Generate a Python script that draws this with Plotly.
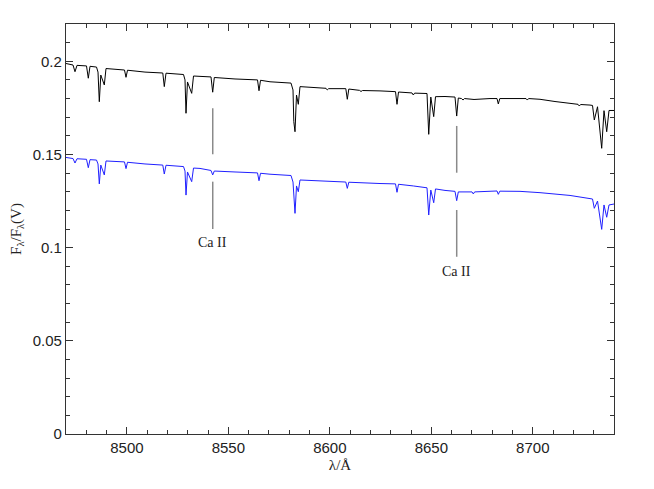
import plotly.graph_objects as go

# ---- data ----
wave_black = [8470.00, 8473.45, 8474.43, 8475.42, 8480.10, 8480.99, 8481.83, 8485.03, 8485.77, 8486.41,
              8487.15, 8488.87, 8489.71, 8494.14, 8498.82, 8499.56, 8500.30, 8508.92, 8517.69, 8518.43,
              8519.27, 8527.89, 8528.63, 8529.13, 8529.86, 8531.93, 8532.82, 8536.02, 8541.44, 8542.28,
              8543.07, 8553.27, 8564.35, 8565.09, 8565.83, 8570.51, 8580.86, 8581.85, 8582.24, 8582.83,
              8583.57, 8584.46, 8585.29, 8595.15, 8598.10, 8598.74, 8599.39, 8607.86, 8608.60, 8609.34,
              8614.61, 8615.35, 8616.09, 8624.71, 8632.35, 8633.09, 8633.83, 8640.48, 8641.12, 8641.76,
              8647.87, 8648.71, 8649.74, 8651.17, 8652.06, 8656.74, 8661.66, 8662.50, 8663.29, 8664.87,
              8665.61, 8666.35, 8671.03, 8678.91, 8682.36, 8683.00, 8683.74, 8696.65, 8697.29, 8697.93,
              8703.54, 8710.93, 8718.33, 8722.27, 8722.91, 8723.55, 8728.18, 8729.41, 8730.30, 8731.88,
              8733.94, 8735.08, 8736.41, 8737.54, 8740.00]
flux_black = [0.1988, 0.1980, 0.1944, 0.1978, 0.1975, 0.1909, 0.1973, 0.1969, 0.1942, 0.1783,
              0.1926, 0.1873, 0.1961, 0.1959, 0.1953, 0.1914, 0.1952, 0.1942, 0.1937, 0.1864,
              0.1936, 0.1929, 0.1900, 0.1721, 0.1889, 0.1828, 0.1921, 0.1919, 0.1916, 0.1834,
              0.1913, 0.1905, 0.1900, 0.1842, 0.1898, 0.1890, 0.1883, 0.1846, 0.1676, 0.1622,
              0.1819, 0.1769, 0.1864, 0.1857, 0.1855, 0.1846, 0.1853, 0.1853, 0.1796, 0.1851,
              0.1844, 0.1838, 0.1843, 0.1841, 0.1837, 0.1769, 0.1835, 0.1830, 0.1819, 0.1829,
              0.1827, 0.1608, 0.1808, 0.1703, 0.1810, 0.1811, 0.1808, 0.1706, 0.1803, 0.1800,
              0.1792, 0.1800, 0.1795, 0.1800, 0.1800, 0.1771, 0.1800, 0.1800, 0.1792, 0.1800,
              0.1796, 0.1784, 0.1776, 0.1769, 0.1760, 0.1768, 0.1765, 0.1763, 0.1685, 0.1756,
              0.1533, 0.1735, 0.1622, 0.1736, 0.1736]

wave_blue = [8470.00, 8473.45, 8474.43, 8475.42, 8480.10, 8480.99, 8481.83, 8485.03, 8485.77, 8486.41,
             8487.15, 8488.87, 8489.71, 8494.14, 8498.82, 8499.56, 8500.30, 8508.92, 8517.69, 8518.43,
             8519.27, 8527.89, 8528.63, 8529.13, 8529.86, 8531.93, 8532.82, 8536.02, 8541.44, 8542.28,
             8543.07, 8553.27, 8564.35, 8565.09, 8565.83, 8570.51, 8580.86, 8581.85, 8582.83, 8583.57,
             8584.46, 8585.29, 8595.15, 8605.00, 8607.86, 8608.60, 8609.34, 8624.71, 8632.35, 8633.09,
             8633.83, 8641.12, 8647.87, 8648.71, 8649.74, 8651.17, 8652.06, 8656.74, 8661.66, 8662.50,
             8663.29, 8670.04, 8670.68, 8671.32, 8678.91, 8682.36, 8683.00, 8683.74, 8693.69, 8703.54,
             8718.33, 8728.18, 8729.41, 8730.30, 8731.88, 8733.94, 8735.08, 8736.41, 8737.54, 8740.00]
flux_blue = [0.1484, 0.1478, 0.1454, 0.1477, 0.1474, 0.1429, 0.1472, 0.1470, 0.1449, 0.1342,
             0.1443, 0.1390, 0.1465, 0.1462, 0.1460, 0.1424, 0.1458, 0.1449, 0.1443, 0.1395,
             0.1442, 0.1435, 0.1411, 0.1282, 0.1406, 0.1354, 0.1427, 0.1425, 0.1414, 0.1390,
             0.1411, 0.1406, 0.1401, 0.1359, 0.1399, 0.1394, 0.1387, 0.1352, 0.1184, 0.1331,
             0.1300, 0.1363, 0.1358, 0.1355, 0.1352, 0.1318, 0.1351, 0.1344, 0.1342, 0.1297,
             0.1340, 0.1331, 0.1321, 0.1175, 0.1309, 0.1241, 0.1315, 0.1307, 0.1302, 0.1252,
             0.1299, 0.1299, 0.1288, 0.1299, 0.1303, 0.1304, 0.1286, 0.1303, 0.1302, 0.1295,
             0.1280, 0.1265, 0.1261, 0.1211, 0.1250, 0.1098, 0.1229, 0.1163, 0.1229, 0.1234]

# Ca II markers: wavelength, upper segment (top, bottom), lower segment (top, bottom), label y
marker_wave = [8542.3, 8662.5]
marker_upper = [(0.1748, 0.1501), (0.1653, 0.1402)]
marker_lower = [(0.1354, 0.1100), (0.1202, 0.0951)]
marker_label_y = [0.1025, 0.0871]
marker_text = ["Ca II", "Ca II"]

x_range = [8470, 8740]
y_range = [0, 0.22]
x_ticks = [8500, 8550, 8600, 8650, 8700]
y_ticks = [0, 0.05, 0.1, 0.15, 0.2]
y_ticklabels = ["0", "0.05", "0.1", "0.15", "0.2"]

fig = go.Figure()
fig.add_trace(go.Scatter(x=wave_black, y=flux_black, mode="lines",
                         line=dict(color="black", width=1), showlegend=False))
fig.add_trace(go.Scatter(x=wave_blue, y=flux_blue, mode="lines",
                         line=dict(color="#2020ff", width=1), showlegend=False))

for w, up, lo in zip(marker_wave, marker_upper, marker_lower):
    for seg in (up, lo):
        fig.add_trace(go.Scatter(x=[w, w], y=list(seg), mode="lines",
                                 line=dict(color="#8a8a8a", width=1.5), showlegend=False,
                                 hoverinfo="skip"))

for w, ly, t in zip(marker_wave, marker_label_y, marker_text):
    fig.add_annotation(x=w, y=ly, text=t, showarrow=False,
                       font=dict(family="Liberation Serif, DejaVu Serif, serif", size=14, color="#222"))

axis_common = dict(showgrid=False, zeroline=False, showline=True, linecolor="#333", linewidth=1.3,
                   mirror="ticks", ticks="inside", ticklen=7, tickwidth=1, tickcolor="#333",
                   automargin=False,
                   tickfont=dict(family="Liberation Sans, Arial, sans-serif", size=15, color="#222"))

fig.update_xaxes(range=x_range, tickvals=x_ticks, ticktext=[str(v) for v in x_ticks],
                 minor=dict(dtick=10, ticks="inside", ticklen=4, tickcolor="#333", tick0=8470),
                 title=dict(text="λ/Å", font=dict(family="Liberation Serif, DejaVu Serif, serif", size=15, color="#222"),
                            standoff=4),
                 **axis_common)
fig.update_yaxes(range=y_range, tickvals=y_ticks, ticktext=y_ticklabels,
                 minor=dict(dtick=0.01, ticks="inside", ticklen=4, tickcolor="#333", tick0=0),
                 title=dict(text="F<sub>λ</sub>/F<sub>λ</sub>(V)",
                            font=dict(family="Liberation Serif, DejaVu Serif, serif", size=15, color="#222"),
                            standoff=15),
                 **axis_common)

fig.update_layout(width=638, height=473, margin=dict(l=58, r=32, t=16, b=47),
                  plot_bgcolor="white", paper_bgcolor="white")

fig.write_html("out.html")
